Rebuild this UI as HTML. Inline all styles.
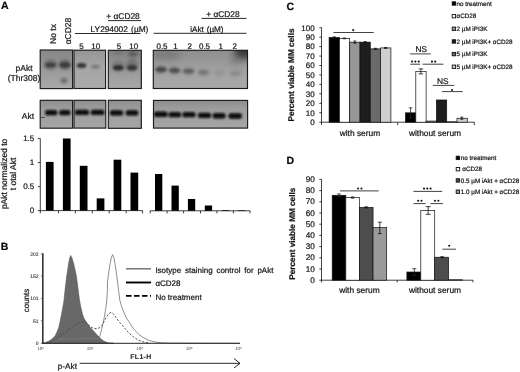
<!DOCTYPE html>
<html><head><meta charset="utf-8"><style>
html,body{margin:0;padding:0;background:#fff;}
svg{display:block;will-change:transform;}
text{font-family:"Liberation Sans",sans-serif;stroke:#222;stroke-width:0.22px;text-rendering:geometricPrecision;}
</style></head><body>
<svg width="520" height="372" viewBox="0 0 520 372" font-family="Liberation Sans, sans-serif">
<rect width="520" height="372" fill="#fff"/>
<text x="1.0" y="9.3" font-size="10.5" text-anchor="start" font-weight="bold" fill="#000" >A</text>
<text transform="translate(56.0,34.0) rotate(-90)" font-size="8.5" text-anchor="middle" fill="#111">No tx</text>
<text transform="translate(70.5,31.0) rotate(-90)" font-size="8.5" text-anchor="middle" fill="#111">&#945;CD28</text>
<text x="106.3" y="19.3" font-size="8.4" text-anchor="start" fill="#111" >+ &#945;CD28</text>
<line x1="108" y1="20.6" x2="141" y2="20.6" stroke="#111" stroke-width="0.9" />
<text x="90.6" y="31.9" font-size="8.3" text-anchor="start" fill="#111" word-spacing="1">LY294002 (&#181;M)</text>
<line x1="75" y1="33.5" x2="140.5" y2="33.5" stroke="#111" stroke-width="0.9" />
<text x="206.2" y="17.1" font-size="8.4" text-anchor="start" fill="#111" >+ &#945;CD28</text>
<line x1="201.5" y1="18.4" x2="246.5" y2="18.4" stroke="#111" stroke-width="0.9" />
<text x="190.2" y="31.8" font-size="8.1" text-anchor="start" fill="#111" word-spacing="0.8">iAkt (&#181;M)</text>
<line x1="153.6" y1="33.3" x2="246.5" y2="33.3" stroke="#111" stroke-width="0.9" />
<text x="81.5" y="48.5" font-size="8" text-anchor="middle" fill="#111" >5</text>
<text x="95.8" y="48.5" font-size="8" text-anchor="middle" fill="#111" >10</text>
<text x="119" y="48.5" font-size="8" text-anchor="middle" fill="#111" >5</text>
<text x="133.8" y="48.5" font-size="8" text-anchor="middle" fill="#111" >10</text>
<text x="162" y="48.5" font-size="8" text-anchor="middle" fill="#111" >0.5</text>
<text x="175.5" y="48.5" font-size="8" text-anchor="middle" fill="#111" >1</text>
<text x="189.7" y="48.5" font-size="8" text-anchor="middle" fill="#111" >2</text>
<text x="204.5" y="48.5" font-size="8" text-anchor="middle" fill="#111" >0.5</text>
<text x="220.8" y="48.5" font-size="8" text-anchor="middle" fill="#111" >1</text>
<text x="234.8" y="48.5" font-size="8" text-anchor="middle" fill="#111" >2</text>
<text x="24" y="71" font-size="8.5" text-anchor="middle" fill="#111" >pAkt</text>
<text x="24" y="81.2" font-size="8.5" text-anchor="middle" fill="#111" >(Thr308)</text>
<text x="28" y="118.5" font-size="8.5" text-anchor="middle" fill="#111" >Akt</text>
<defs>
<filter id="b1" x="-50%" y="-80%" width="200%" height="260%"><feGaussianBlur stdDeviation="1.0"/></filter>
<filter id="b2" x="-50%" y="-80%" width="200%" height="260%"><feGaussianBlur stdDeviation="1.8"/></filter>
<filter id="b3" x="-50%" y="-80%" width="200%" height="260%"><feGaussianBlur stdDeviation="3"/></filter>
<filter id="bt" x="-20%" y="-50%" width="140%" height="200%"><feGaussianBlur stdDeviation="0.8"/></filter>
<linearGradient id="gp1" x1="0" y1="0" x2="0" y2="1">
 <stop offset="0" stop-color="#878787"/><stop offset="0.5" stop-color="#999"/><stop offset="1" stop-color="#a9a9a9"/>
</linearGradient>
<linearGradient id="gp2" x1="0" y1="0" x2="0" y2="1">
 <stop offset="0" stop-color="#959595"/><stop offset="0.4" stop-color="#a5a5a5"/><stop offset="1" stop-color="#ababab"/>
</linearGradient>
<linearGradient id="gp3" x1="0" y1="0" x2="0" y2="1">
 <stop offset="0" stop-color="#838383"/><stop offset="0.55" stop-color="#9a9a9a"/><stop offset="1" stop-color="#a9a9a9"/>
</linearGradient>
<linearGradient id="gp4" x1="0" y1="0" x2="0" y2="1">
 <stop offset="0" stop-color="#8e8e8e"/><stop offset="0.5" stop-color="#a0a0a0"/><stop offset="1" stop-color="#a9a9a9"/>
</linearGradient>
<linearGradient id="ga" x1="0" y1="0" x2="0" y2="1">
 <stop offset="0" stop-color="#8d8d8d"/><stop offset="0.3" stop-color="#9d9d9d"/><stop offset="1" stop-color="#a5a5a5"/>
</linearGradient>
<clipPath id="c1"><rect x="40.2" y="50" width="32.4" height="38.6"/></clipPath>
<clipPath id="c2"><rect x="74.0" y="50.2" width="31.6" height="38.3"/></clipPath>
<clipPath id="c3"><rect x="108.3" y="50.3" width="33" height="38"/></clipPath>
<clipPath id="c4"><rect x="153.3" y="50.3" width="94.2" height="38"/></clipPath>
</defs>
<rect x="40.20" y="50.00" width="32.40" height="38.60" fill="url(#gp1)" stroke="none" stroke-width="0" />
<rect x="74.00" y="50.20" width="31.60" height="38.30" fill="url(#gp2)" stroke="none" stroke-width="0" />
<rect x="108.30" y="50.30" width="33.00" height="38.20" fill="url(#gp3)" stroke="none" stroke-width="0" />
<rect x="153.30" y="50.30" width="94.20" height="38.20" fill="url(#gp4)" stroke="none" stroke-width="0" />
<ellipse cx="50.5" cy="64.5" rx="7.0" ry="5.5" fill="#4a4a4a" opacity="0.35" filter="url(#b2)" clip-path="url(#c1)"/>
<ellipse cx="64.8" cy="64.5" rx="6.5" ry="5.5" fill="#404040" opacity="0.4" filter="url(#b2)" clip-path="url(#c1)"/>
<ellipse cx="50.5" cy="65" rx="5.5" ry="2.75" fill="#383838" opacity="0.85" filter="url(#b1)" clip-path="url(#c1)"/>
<ellipse cx="64.8" cy="65" rx="5.25" ry="2.75" fill="#303030" opacity="0.9" filter="url(#b1)" clip-path="url(#c1)"/>
<ellipse cx="64" cy="80.5" rx="3.25" ry="2.5" fill="#505050" opacity="0.75" filter="url(#b2)" clip-path="url(#c1)"/>
<ellipse cx="81.5" cy="65.5" rx="4.75" ry="2.5" fill="#282828" opacity="0.9" filter="url(#b1)" clip-path="url(#c2)"/>
<ellipse cx="95.5" cy="66.8" rx="4.5" ry="2.25" fill="#686868" opacity="0.65" filter="url(#b1)" clip-path="url(#c2)"/>
<ellipse cx="118.3" cy="66" rx="6.5" ry="5.5" fill="#4a4a4a" opacity="0.3" filter="url(#b2)" clip-path="url(#c3)"/>
<ellipse cx="132" cy="65" rx="6.0" ry="6.5" fill="#404040" opacity="0.35" filter="url(#b2)" clip-path="url(#c3)"/>
<ellipse cx="118.3" cy="67.8" rx="5.5" ry="2.75" fill="#282828" opacity="0.9" filter="url(#b1)" clip-path="url(#c3)"/>
<ellipse cx="132" cy="67.8" rx="5.25" ry="2.75" fill="#2a2a2a" opacity="0.85" filter="url(#b1)" clip-path="url(#c3)"/>
<ellipse cx="133" cy="54" rx="5.5" ry="3.0" fill="#404040" opacity="0.55" filter="url(#b2)" clip-path="url(#c3)"/>
<ellipse cx="118" cy="53" rx="6.0" ry="2.5" fill="#606060" opacity="0.35" filter="url(#b2)" clip-path="url(#c3)"/>
<ellipse cx="161" cy="69.5" rx="6.0" ry="4.5" fill="#555" opacity="0.3375" filter="url(#b2)" clip-path="url(#c4)"/>
<ellipse cx="161" cy="69.5" rx="5.5" ry="2.5" fill="#303030" opacity="0.75" filter="url(#b1)" clip-path="url(#c4)"/>
<ellipse cx="174.5" cy="70.5" rx="6.0" ry="4.5" fill="#555" opacity="0.29250000000000004" filter="url(#b2)" clip-path="url(#c4)"/>
<ellipse cx="174.5" cy="70.5" rx="5.5" ry="2.5" fill="#303030" opacity="0.65" filter="url(#b1)" clip-path="url(#c4)"/>
<ellipse cx="188.5" cy="71.2" rx="6.0" ry="4.5" fill="#555" opacity="0.225" filter="url(#b2)" clip-path="url(#c4)"/>
<ellipse cx="188.5" cy="71.2" rx="5.5" ry="2.5" fill="#303030" opacity="0.5" filter="url(#b1)" clip-path="url(#c4)"/>
<ellipse cx="203.5" cy="72.5" rx="6.0" ry="4.5" fill="#555" opacity="0.135" filter="url(#b2)" clip-path="url(#c4)"/>
<ellipse cx="203.5" cy="72.5" rx="5.5" ry="2.5" fill="#303030" opacity="0.3" filter="url(#b1)" clip-path="url(#c4)"/>
<ellipse cx="219" cy="73" rx="6.0" ry="4.5" fill="#555" opacity="0.036000000000000004" filter="url(#b2)" clip-path="url(#c4)"/>
<ellipse cx="219" cy="73" rx="5.5" ry="2.5" fill="#303030" opacity="0.08" filter="url(#b1)" clip-path="url(#c4)"/>
<ellipse cx="235.5" cy="73.5" rx="6.0" ry="4.5" fill="#555" opacity="0.0675" filter="url(#b2)" clip-path="url(#c4)"/>
<ellipse cx="235.5" cy="73.5" rx="5.5" ry="2.5" fill="#303030" opacity="0.15" filter="url(#b1)" clip-path="url(#c4)"/>
<ellipse cx="244" cy="51" rx="10.0" ry="8.0" fill="#252525" opacity="0.8" filter="url(#b3)" clip-path="url(#c4)"/>
<ellipse cx="236" cy="60" rx="7.0" ry="5.0" fill="#555" opacity="0.3" filter="url(#b3)" clip-path="url(#c4)"/>
<ellipse cx="166" cy="55" rx="15.0" ry="5.0" fill="#505050" opacity="0.35" filter="url(#b3)" clip-path="url(#c4)"/>
<rect x="40.20" y="50.00" width="32.40" height="38.60" fill="none" stroke="#1a1a1a" stroke-width="1.15" />
<rect x="74.00" y="50.20" width="31.60" height="38.30" fill="none" stroke="#1a1a1a" stroke-width="1.15" />
<rect x="108.30" y="50.30" width="33.00" height="38.20" fill="none" stroke="#1a1a1a" stroke-width="1.15" />
<rect x="153.30" y="50.30" width="94.20" height="38.20" fill="none" stroke="#1a1a1a" stroke-width="1.15" />
<rect x="40.20" y="100.30" width="32.40" height="27.90" fill="url(#ga)" stroke="none" stroke-width="0" />
<rect x="74.00" y="100.30" width="31.80" height="27.80" fill="url(#ga)" stroke="none" stroke-width="0" />
<rect x="108.30" y="100.30" width="33.00" height="28.00" fill="url(#ga)" stroke="none" stroke-width="0" />
<rect x="153.50" y="100.40" width="94.10" height="27.70" fill="url(#ga)" stroke="none" stroke-width="0" />
<rect x="45.05" y="109.90" width="12.30" height="5.4" rx="2.6" fill="#080808" filter="url(#bt)"/>
<rect x="59.15" y="109.90" width="11.30" height="5.4" rx="2.6" fill="#080808" filter="url(#bt)"/>
<rect x="74.85" y="109.70" width="14.30" height="5.4" rx="2.6" fill="#080808" filter="url(#bt)"/>
<rect x="90.70" y="109.70" width="13.80" height="5.4" rx="2.6" fill="#080808" filter="url(#bt)"/>
<rect x="109.85" y="110.20" width="13.30" height="5.4" rx="2.6" fill="#080808" filter="url(#bt)"/>
<rect x="125.60" y="110.20" width="12.80" height="5.4" rx="2.6" fill="#080808" filter="url(#bt)"/>
<rect x="153.90" y="111.60" width="13.80" height="5.4" rx="2.6" fill="#080808" filter="url(#bt)"/>
<rect x="168.40" y="111.90" width="12.80" height="5.4" rx="2.6" fill="#080808" filter="url(#bt)"/>
<rect x="182.35" y="111.90" width="13.30" height="5.4" rx="2.6" fill="#080808" filter="url(#bt)"/>
<rect x="197.85" y="112.70" width="13.30" height="5.4" rx="2.6" fill="#080808" filter="url(#bt)"/>
<rect x="212.60" y="113.10" width="13.00" height="5.4" rx="2.6" fill="#080808" filter="url(#bt)"/>
<rect x="228.35" y="113.30" width="13.70" height="5.4" rx="2.6" fill="#080808" filter="url(#bt)"/>
<line x1="41.3" y1="117.5" x2="44.4" y2="117.5" stroke="#333" stroke-width="0.9" />
<rect x="40.20" y="100.30" width="32.40" height="27.90" fill="none" stroke="#1a1a1a" stroke-width="1.15" />
<rect x="74.00" y="100.30" width="31.80" height="27.80" fill="none" stroke="#1a1a1a" stroke-width="1.15" />
<rect x="108.30" y="100.30" width="33.00" height="28.00" fill="none" stroke="#1a1a1a" stroke-width="1.15" />
<rect x="153.50" y="100.40" width="94.10" height="27.70" fill="none" stroke="#1a1a1a" stroke-width="1.15" />
<line x1="40.3" y1="138.5" x2="40.3" y2="210.8" stroke="#111" stroke-width="0.8" />
<line x1="37.8" y1="210.6" x2="40.3" y2="210.6" stroke="#111" stroke-width="0.8" />
<line x1="37.8" y1="186.6" x2="40.3" y2="186.6" stroke="#111" stroke-width="0.8" />
<line x1="37.8" y1="162.6" x2="40.3" y2="162.6" stroke="#111" stroke-width="0.8" />
<line x1="37.8" y1="138.6" x2="40.3" y2="138.6" stroke="#111" stroke-width="0.8" />
<text x="34.3" y="213.4" font-size="8" text-anchor="end" fill="#111" >0</text>
<text x="34.3" y="189.4" font-size="8" text-anchor="end" fill="#111" >0.5</text>
<text x="34.3" y="165.4" font-size="8" text-anchor="end" fill="#111" >1</text>
<text x="34.3" y="141.4" font-size="8" text-anchor="end" fill="#111" >1.5</text>
<line x1="40.3" y1="210.6" x2="142.7" y2="210.6" stroke="#111" stroke-width="0.8" />
<line x1="40.3" y1="210.6" x2="40.3" y2="213.4" stroke="#111" stroke-width="0.8" />
<line x1="58.5" y1="210.6" x2="58.5" y2="213.4" stroke="#111" stroke-width="0.8" />
<line x1="75.4" y1="210.6" x2="75.4" y2="213.4" stroke="#111" stroke-width="0.8" />
<line x1="92.3" y1="210.6" x2="92.3" y2="213.4" stroke="#111" stroke-width="0.8" />
<line x1="109.2" y1="210.6" x2="109.2" y2="213.4" stroke="#111" stroke-width="0.8" />
<line x1="126.2" y1="210.6" x2="126.2" y2="213.4" stroke="#111" stroke-width="0.8" />
<line x1="142.6" y1="210.6" x2="142.6" y2="213.4" stroke="#111" stroke-width="0.8" />
<line x1="150.2" y1="210.8" x2="250.1" y2="210.8" stroke="#111" stroke-width="0.8" />
<line x1="150.2" y1="210.8" x2="150.2" y2="213.4" stroke="#111" stroke-width="0.8" />
<line x1="167.1" y1="210.8" x2="167.1" y2="213.4" stroke="#111" stroke-width="0.8" />
<line x1="183.6" y1="210.8" x2="183.6" y2="213.4" stroke="#111" stroke-width="0.8" />
<line x1="200.5" y1="210.8" x2="200.5" y2="213.4" stroke="#111" stroke-width="0.8" />
<line x1="216.9" y1="210.8" x2="216.9" y2="213.4" stroke="#111" stroke-width="0.8" />
<line x1="233.4" y1="210.8" x2="233.4" y2="213.4" stroke="#111" stroke-width="0.8" />
<line x1="250.1" y1="210.8" x2="250.1" y2="213.4" stroke="#111" stroke-width="0.8" />
<rect x="45.90" y="161.90" width="7.70" height="48.70" fill="#000" stroke="none" stroke-width="0" />
<rect x="62.90" y="138.50" width="7.70" height="72.10" fill="#000" stroke="none" stroke-width="0" />
<rect x="79.80" y="165.80" width="7.70" height="44.80" fill="#000" stroke="none" stroke-width="0" />
<rect x="96.70" y="198.40" width="7.70" height="12.20" fill="#000" stroke="none" stroke-width="0" />
<rect x="113.60" y="159.70" width="7.70" height="50.90" fill="#000" stroke="none" stroke-width="0" />
<rect x="130.50" y="172.60" width="7.70" height="38.00" fill="#000" stroke="none" stroke-width="0" />
<rect x="155.00" y="174.00" width="7.30" height="36.80" fill="#000" stroke="none" stroke-width="0" />
<rect x="171.50" y="185.60" width="7.30" height="25.20" fill="#000" stroke="none" stroke-width="0" />
<rect x="187.90" y="199.00" width="7.30" height="11.80" fill="#000" stroke="none" stroke-width="0" />
<rect x="204.80" y="205.50" width="7.30" height="5.30" fill="#000" stroke="none" stroke-width="0" />
<rect x="221.80" y="210.10" width="7.30" height="0.70" fill="#000" stroke="none" stroke-width="0" />
<rect x="238.20" y="210.20" width="7.30" height="0.60" fill="#000" stroke="none" stroke-width="0" />
<text transform="translate(7.3,173.9) rotate(-90)" font-size="8.5" text-anchor="middle" fill="#111">pAkt normalized to</text>
<text transform="translate(16.3,173.9) rotate(-90)" font-size="8.5" text-anchor="middle" fill="#111">t otal Akt</text>
<text x="0.8" y="250.4" font-size="10.5" text-anchor="start" font-weight="bold" fill="#000" >B</text>
<text transform="translate(28.8,300.5) rotate(-90)" font-size="8" text-anchor="middle" fill="#111">counts</text>
<text x="38.6" y="255.71500000000003" font-size="5.0" text-anchor="end" fill="#333" style="stroke-width:0.1px">202</text>
<line x1="40.8" y1="253.91500000000002" x2="42.8" y2="253.91500000000002" stroke="#333" stroke-width="0.6" />
<text x="38.6" y="277.84000000000003" font-size="5.0" text-anchor="end" fill="#333" style="stroke-width:0.1px">152</text>
<line x1="40.8" y1="276.04" x2="42.8" y2="276.04" stroke="#333" stroke-width="0.6" />
<text x="38.6" y="300.4075" font-size="5.0" text-anchor="end" fill="#333" style="stroke-width:0.1px">101</text>
<line x1="40.8" y1="298.6075" x2="42.8" y2="298.6075" stroke="#333" stroke-width="0.6" />
<text x="38.6" y="322.5325" font-size="5.0" text-anchor="end" fill="#333" style="stroke-width:0.1px">51</text>
<line x1="40.8" y1="320.7325" x2="42.8" y2="320.7325" stroke="#333" stroke-width="0.6" />
<text x="38.6" y="345.1" font-size="5.0" text-anchor="end" fill="#333" style="stroke-width:0.1px">0</text>
<line x1="40.8" y1="343.3" x2="42.8" y2="343.3" stroke="#333" stroke-width="0.6" />
<polygon points="43,343.3 46.2,342.3 48.5,341.4 50.8,340 53.3,337.8 55.4,335.4 57.2,331.5 58.8,327.3 59.8,323 60.6,318.7 61.5,314.3 62.3,310 63.8,302 64.5,295 65.5,286 66.6,277 67.6,270.2 68.6,263.4 69.6,258.5 70.6,255.4 71.8,257.5 73.6,263.4 75.2,270.2 76.5,277 77.6,285 78.7,294 79.5,300 80.6,306 81.5,310 82.6,314.5 84,318.3 85.6,321 87.4,323.6 90,327.2 93.4,330.8 96.5,334.3 99.2,337.1 101.5,339.3 103.8,341.1 108,342.8 114,343.3" fill="#686868" stroke="#5a5a5a"  stroke-width="0.6"/>
<polyline points="43,343.1 48,341.8 52,339.3 56,338.8 60,338.8 80,338.7 92,338.6 96,338.4 98.8,337.6 100.1,335.3 101.8,328.6 103.4,321.9 104.7,315 105.8,308.4 106.8,300 107.4,290.3 107.4,283 108.1,276.9 109.1,270 110.2,263.4 111.2,258 112.6,254.7 113.8,257.5 114.9,263.4 116,270 116.9,276.9 117.8,284 118.5,290.3 119.8,300 121,304.5 122.3,308.4 125,315 127,319 129,321.9 131,325 133,328 136,331.5 139,334.5 143,337.5 148,340 154,341.8 160,342.7 170,343.1 240,343.3" fill="none" stroke="#7a7a7a" stroke-width="0.85"/>
<polyline points="46,343 49,342 52,340.6 56.5,338.6 62.3,334.6 68.1,330.1 73.8,325.6 76.8,323.8 79.6,322.6 82.5,321.8 84.8,321.6 86.5,322.6 88.8,325 91,327 93.4,328.4 96,328.7 98,328.5 100.2,327.3 102,325.5 103.8,322 105.5,319 106.9,316.5 108.5,314 110,312.8 111.6,312.5 113.5,314 115,316 116.3,317.8 119,321.5 121.7,324.6 125,328.5 128.4,332.6 132,335.8 135,338 138,340 142,341.5 146,342.4 150,343" fill="none" stroke="#4a4a4a" stroke-width="0.95" stroke-dasharray="2.2,1.6"/>
<line x1="42.8" y1="253.3" x2="42.8" y2="343.8" stroke="#333" stroke-width="1.6" />
<line x1="42.3" y1="343.3" x2="240" y2="343.3" stroke="#222" stroke-width="1.0" />
<text x="40.6" y="350" font-size="4.5" text-anchor="middle" fill="#444" style="stroke:none">10<tspan font-size="3" dy="-1.5">0</tspan></text>
<text x="90.2" y="350" font-size="4.5" text-anchor="middle" fill="#444" style="stroke:none">10<tspan font-size="3" dy="-1.5">1</tspan></text>
<text x="139.6" y="350" font-size="4.5" text-anchor="middle" fill="#444" style="stroke:none">10<tspan font-size="3" dy="-1.5">2</tspan></text>
<text x="189.1" y="350" font-size="4.5" text-anchor="middle" fill="#444" style="stroke:none">10<tspan font-size="3" dy="-1.5">3</tspan></text>
<text x="238.3" y="350" font-size="4.5" text-anchor="middle" fill="#444" style="stroke:none">10<tspan font-size="3" dy="-1.5">4</tspan></text>
<text x="130.3" y="358.9" font-size="6.9" text-anchor="start" font-weight="bold" fill="#222" letter-spacing="0.35" style="stroke-width:0.1px">FL1-H</text>
<text x="57.8" y="369.3" font-size="8.2" text-anchor="start" fill="#111" >p-Akt</text>
<line x1="79.6" y1="363.3" x2="240" y2="363.3" stroke="#111" stroke-width="0.9" />
<polyline points="234,358.6 240,363.3 234,368" fill="none" stroke="#111" stroke-width="0.9"/>
<line x1="126" y1="268.8" x2="151" y2="268.8" stroke="#777" stroke-width="1.5" />
<line x1="126" y1="282.5" x2="151" y2="282.5" stroke="#000" stroke-width="1.9" />
<line x1="126" y1="295.9" x2="151" y2="295.9" stroke="#000" stroke-width="1.9" stroke-dasharray="5.5,2.5"/>
<text x="155.4" y="272.9" font-size="8" text-anchor="start" fill="#111" word-spacing="1.6">Isotype staining control for pAkt</text>
<text x="155.4" y="286.3" font-size="8" text-anchor="start" fill="#111" >&#945;CD28</text>
<text x="155.4" y="300.0" font-size="8" text-anchor="start" fill="#111" >No treatment</text>
<text x="286.5" y="10.1" font-size="10.5" text-anchor="start" font-weight="bold" fill="#000" >C</text>
<line x1="321.5" y1="27.5" x2="321.5" y2="122.3" stroke="#111" stroke-width="0.8" />
<line x1="319.3" y1="122.2" x2="321.5" y2="122.2" stroke="#111" stroke-width="0.8" />
<text x="314.7" y="125.05" font-size="8" text-anchor="end" fill="#111" >0</text>
<line x1="319.3" y1="112.75" x2="321.5" y2="112.75" stroke="#111" stroke-width="0.8" />
<text x="314.7" y="115.6" font-size="8" text-anchor="end" fill="#111" >10</text>
<line x1="319.3" y1="103.30000000000001" x2="321.5" y2="103.30000000000001" stroke="#111" stroke-width="0.8" />
<text x="314.7" y="106.15" font-size="8" text-anchor="end" fill="#111" >20</text>
<line x1="319.3" y1="93.85000000000001" x2="321.5" y2="93.85000000000001" stroke="#111" stroke-width="0.8" />
<text x="314.7" y="96.7" font-size="8" text-anchor="end" fill="#111" >30</text>
<line x1="319.3" y1="84.4" x2="321.5" y2="84.4" stroke="#111" stroke-width="0.8" />
<text x="314.7" y="87.25" font-size="8" text-anchor="end" fill="#111" >40</text>
<line x1="319.3" y1="74.95" x2="321.5" y2="74.95" stroke="#111" stroke-width="0.8" />
<text x="314.7" y="77.8" font-size="8" text-anchor="end" fill="#111" >50</text>
<line x1="319.3" y1="65.5" x2="321.5" y2="65.5" stroke="#111" stroke-width="0.8" />
<text x="314.7" y="68.35" font-size="8" text-anchor="end" fill="#111" >60</text>
<line x1="319.3" y1="56.05000000000001" x2="321.5" y2="56.05000000000001" stroke="#111" stroke-width="0.8" />
<text x="314.7" y="58.90000000000001" font-size="8" text-anchor="end" fill="#111" >70</text>
<line x1="319.3" y1="46.60000000000001" x2="321.5" y2="46.60000000000001" stroke="#111" stroke-width="0.8" />
<text x="314.7" y="49.45000000000001" font-size="8" text-anchor="end" fill="#111" >80</text>
<line x1="319.3" y1="37.150000000000006" x2="321.5" y2="37.150000000000006" stroke="#111" stroke-width="0.8" />
<text x="314.7" y="40.00000000000001" font-size="8" text-anchor="end" fill="#111" >90</text>
<line x1="319.3" y1="27.700000000000003" x2="321.5" y2="27.700000000000003" stroke="#111" stroke-width="0.8" />
<text x="314.7" y="30.550000000000004" font-size="8" text-anchor="end" fill="#111" >100</text>
<line x1="321.5" y1="122.2" x2="474.5" y2="122.2" stroke="#111" stroke-width="0.8" />
<line x1="321.5" y1="122.2" x2="321.5" y2="125.2" stroke="#111" stroke-width="0.8" />
<line x1="397.7" y1="122.2" x2="397.7" y2="125.2" stroke="#111" stroke-width="0.8" />
<line x1="474.3" y1="122.2" x2="474.3" y2="125.2" stroke="#111" stroke-width="0.8" />
<text transform="translate(294.0,75.0) rotate(-90)" font-size="8.3" text-anchor="middle" font-weight="bold" fill="#111">Percent viable MM cells</text>
<rect x="329.10" y="37.53" width="10.30" height="84.67" fill="#000" stroke="#111" stroke-width="0.7" />
<rect x="339.40" y="38.38" width="10.30" height="83.82" fill="#fff" stroke="#111" stroke-width="0.7" />
<rect x="349.70" y="42.16" width="10.30" height="80.04" fill="#969696" stroke="#111" stroke-width="0.7" />
<rect x="360.00" y="42.16" width="10.30" height="80.04" fill="#1e1e1e" stroke="#111" stroke-width="0.7" />
<rect x="370.30" y="48.87" width="10.30" height="73.33" fill="#6a6a6a" stroke="#111" stroke-width="0.7" />
<rect x="380.60" y="47.92" width="10.30" height="74.28" fill="#cfcfcf" stroke="#111" stroke-width="0.7" />
<rect x="405.50" y="112.84" width="10.30" height="9.36" fill="#000" stroke="#111" stroke-width="0.7" />
<rect x="415.80" y="71.64" width="10.30" height="50.56" fill="#fff" stroke="#111" stroke-width="0.7" />
<rect x="426.10" y="121.07" width="10.30" height="1.13" fill="#969696" stroke="#111" stroke-width="0.7" />
<rect x="436.40" y="99.99" width="10.30" height="22.21" fill="#1e1e1e" stroke="#111" stroke-width="0.7" />
<rect x="446.70" y="121.82" width="10.30" height="0.38" fill="#6a6a6a" stroke="#111" stroke-width="0.7" />
<rect x="457.00" y="118.23" width="10.30" height="3.97" fill="#cfcfcf" stroke="#111" stroke-width="0.7" />
<line x1="334.3" y1="36.866500000000016" x2="334.3" y2="38.189499999999995" stroke="#111" stroke-width="0.8" />
<line x1="332.8" y1="36.866500000000016" x2="335.8" y2="36.866500000000016" stroke="#111" stroke-width="0.8" />
<line x1="332.8" y1="38.189499999999995" x2="335.8" y2="38.189499999999995" stroke="#111" stroke-width="0.8" />
<line x1="344.4" y1="38.00050000000002" x2="344.4" y2="38.75650000000002" stroke="#111" stroke-width="0.8" />
<line x1="342.9" y1="38.00050000000002" x2="345.9" y2="38.00050000000002" stroke="#111" stroke-width="0.8" />
<line x1="342.9" y1="38.75650000000002" x2="345.9" y2="38.75650000000002" stroke="#111" stroke-width="0.8" />
<line x1="354.8" y1="41.0245" x2="354.8" y2="43.292500000000004" stroke="#111" stroke-width="0.8" />
<line x1="353.3" y1="41.0245" x2="356.3" y2="41.0245" stroke="#111" stroke-width="0.8" />
<line x1="353.3" y1="43.292500000000004" x2="356.3" y2="43.292500000000004" stroke="#111" stroke-width="0.8" />
<line x1="410.6" y1="107.836" x2="410.6" y2="117.85300000000001" stroke="#222" stroke-width="0.8" />
<line x1="408.85" y1="107.836" x2="412.35" y2="107.836" stroke="#222" stroke-width="0.8" />
<line x1="408.85" y1="117.85300000000001" x2="412.35" y2="117.85300000000001" stroke="#222" stroke-width="0.8" />
<line x1="420.9" y1="68.90200000000002" x2="420.9" y2="73.816" stroke="#111" stroke-width="0.8" />
<line x1="418.65" y1="68.90200000000002" x2="423.15" y2="68.90200000000002" stroke="#111" stroke-width="0.8" />
<line x1="418.65" y1="73.816" x2="423.15" y2="73.816" stroke="#111" stroke-width="0.8" />
<line x1="461.8" y1="117.1915" x2="461.8" y2="119.2705" stroke="#111" stroke-width="0.8" />
<line x1="460.3" y1="117.1915" x2="463.3" y2="117.1915" stroke="#111" stroke-width="0.8" />
<line x1="460.3" y1="119.2705" x2="463.3" y2="119.2705" stroke="#111" stroke-width="0.8" />
<line x1="365.1" y1="41.68600000000001" x2="365.1" y2="42.631" stroke="#111" stroke-width="0.8" />
<line x1="363.35" y1="41.68600000000001" x2="366.85" y2="41.68600000000001" stroke="#111" stroke-width="0.8" />
<line x1="363.35" y1="42.631" x2="366.85" y2="42.631" stroke="#111" stroke-width="0.8" />
<line x1="375.4" y1="48.301" x2="375.4" y2="49.435" stroke="#111" stroke-width="0.8" />
<line x1="373.65" y1="48.301" x2="377.15" y2="48.301" stroke="#111" stroke-width="0.8" />
<line x1="373.65" y1="49.435" x2="377.15" y2="49.435" stroke="#111" stroke-width="0.8" />
<line x1="385.7" y1="47.450500000000005" x2="385.7" y2="48.39550000000001" stroke="#111" stroke-width="0.8" />
<line x1="383.95" y1="47.450500000000005" x2="387.45" y2="47.450500000000005" stroke="#111" stroke-width="0.8" />
<line x1="383.95" y1="48.39550000000001" x2="387.45" y2="48.39550000000001" stroke="#111" stroke-width="0.8" />
<line x1="333.5" y1="32.5" x2="373.7" y2="32.5" stroke="#111" stroke-width="0.8" />
<circle cx="353.20" cy="30.10" r="1.05" fill="#151515"/>
<text x="421.3" y="52.1" font-size="8.3" text-anchor="middle" fill="#111" >NS</text>
<line x1="410.1" y1="53.9" x2="430.8" y2="53.9" stroke="#111" stroke-width="0.8" />
<line x1="410.1" y1="64.2" x2="420.1" y2="64.2" stroke="#111" stroke-width="0.8" />
<circle cx="412.10" cy="61.60" r="1.05" fill="#151515"/>
<circle cx="415.40" cy="61.60" r="1.05" fill="#151515"/>
<circle cx="418.70" cy="61.60" r="1.05" fill="#151515"/>
<line x1="422.5" y1="64.2" x2="443.4" y2="64.2" stroke="#111" stroke-width="0.8" />
<circle cx="431.95" cy="61.60" r="1.05" fill="#151515"/>
<circle cx="435.25" cy="61.60" r="1.05" fill="#151515"/>
<text x="442.8" y="83.7" font-size="8.3" text-anchor="middle" fill="#111" >NS</text>
<line x1="432.8" y1="85.4" x2="454.2" y2="85.4" stroke="#111" stroke-width="0.8" />
<line x1="441.9" y1="91.6" x2="462.7" y2="91.6" stroke="#111" stroke-width="0.8" />
<circle cx="452.10" cy="90.00" r="1.05" fill="#151515"/>
<text x="339.7" y="135.9" font-size="8.4" text-anchor="start" fill="#111" >with serum</text>
<text x="408.9" y="136.0" font-size="8.4" text-anchor="start" fill="#111" >without serum</text>
<rect x="452.20" y="1.80" width="3.40" height="3.40" fill="#000" stroke="#111" stroke-width="0.9" />
<text x="456.5" y="5.7" font-size="6.3" text-anchor="start" fill="#111" >no treatment</text>
<rect x="452.20" y="14.45" width="3.40" height="3.40" fill="#fff" stroke="#111" stroke-width="0.9" />
<text x="456.5" y="18.349999999999998" font-size="6.3" text-anchor="start" fill="#111" >&#945;CD28</text>
<rect x="452.20" y="27.10" width="3.40" height="3.40" fill="#969696" stroke="#111" stroke-width="0.9" />
<text x="456.5" y="31.0" font-size="6.3" text-anchor="start" fill="#111" >2 &#181;M iPI3K</text>
<rect x="452.20" y="39.75" width="3.40" height="3.40" fill="#1e1e1e" stroke="#111" stroke-width="0.9" />
<text x="456.5" y="43.650000000000006" font-size="6.3" text-anchor="start" fill="#111" >2 &#181;M iPI3K+ &#945;CD28</text>
<rect x="452.20" y="52.40" width="3.40" height="3.40" fill="#6a6a6a" stroke="#111" stroke-width="0.9" />
<text x="456.5" y="56.300000000000004" font-size="6.3" text-anchor="start" fill="#111" >5 &#181;M iPI3K</text>
<rect x="452.20" y="65.05" width="3.40" height="3.40" fill="#cfcfcf" stroke="#111" stroke-width="0.9" />
<text x="456.5" y="68.95" font-size="6.3" text-anchor="start" fill="#111" >5 &#181;M iPI3K+ &#945;CD28</text>
<text x="286.5" y="163.9" font-size="10.5" text-anchor="start" font-weight="bold" fill="#000" >D</text>
<line x1="321.5" y1="179.4" x2="321.5" y2="280.3" stroke="#111" stroke-width="0.8" />
<line x1="319.3" y1="280.2" x2="321.5" y2="280.2" stroke="#111" stroke-width="0.8" />
<text x="314.9" y="282.8" font-size="8.2" text-anchor="end" fill="#111" >0</text>
<line x1="319.3" y1="269.0" x2="321.5" y2="269.0" stroke="#111" stroke-width="0.8" />
<text x="314.9" y="271.6" font-size="8.2" text-anchor="end" fill="#111" >10</text>
<line x1="319.3" y1="257.8" x2="321.5" y2="257.8" stroke="#111" stroke-width="0.8" />
<text x="314.9" y="260.40000000000003" font-size="8.2" text-anchor="end" fill="#111" >20</text>
<line x1="319.3" y1="246.6" x2="321.5" y2="246.6" stroke="#111" stroke-width="0.8" />
<text x="314.9" y="249.2" font-size="8.2" text-anchor="end" fill="#111" >30</text>
<line x1="319.3" y1="235.39999999999998" x2="321.5" y2="235.39999999999998" stroke="#111" stroke-width="0.8" />
<text x="314.9" y="237.99999999999997" font-size="8.2" text-anchor="end" fill="#111" >40</text>
<line x1="319.3" y1="224.2" x2="321.5" y2="224.2" stroke="#111" stroke-width="0.8" />
<text x="314.9" y="226.79999999999998" font-size="8.2" text-anchor="end" fill="#111" >50</text>
<line x1="319.3" y1="213.0" x2="321.5" y2="213.0" stroke="#111" stroke-width="0.8" />
<text x="314.9" y="215.6" font-size="8.2" text-anchor="end" fill="#111" >60</text>
<line x1="319.3" y1="201.79999999999998" x2="321.5" y2="201.79999999999998" stroke="#111" stroke-width="0.8" />
<text x="314.9" y="204.39999999999998" font-size="8.2" text-anchor="end" fill="#111" >70</text>
<line x1="319.3" y1="190.59999999999997" x2="321.5" y2="190.59999999999997" stroke="#111" stroke-width="0.8" />
<text x="314.9" y="193.19999999999996" font-size="8.2" text-anchor="end" fill="#111" >80</text>
<line x1="319.3" y1="179.39999999999998" x2="321.5" y2="179.39999999999998" stroke="#111" stroke-width="0.8" />
<text x="314.9" y="181.99999999999997" font-size="8.2" text-anchor="end" fill="#111" >90</text>
<line x1="321.5" y1="280.2" x2="473" y2="280.2" stroke="#111" stroke-width="0.8" />
<line x1="321.5" y1="280.2" x2="321.5" y2="282.4" stroke="#111" stroke-width="0.8" />
<line x1="397.2" y1="280.2" x2="397.2" y2="282.4" stroke="#111" stroke-width="0.8" />
<line x1="473" y1="280.2" x2="473" y2="282.4" stroke="#111" stroke-width="0.8" />
<text transform="translate(295.3,233.7) rotate(-90)" font-size="8.2" text-anchor="middle" font-weight="bold" fill="#111">Percent viable MM cells</text>
<rect x="332.20" y="195.30" width="13.62" height="84.90" fill="#000" stroke="#111" stroke-width="0.7" />
<rect x="345.82" y="197.54" width="13.62" height="82.66" fill="#fff" stroke="#111" stroke-width="0.7" />
<rect x="359.44" y="207.40" width="13.62" height="72.80" fill="#4d4d4d" stroke="#111" stroke-width="0.7" />
<rect x="373.06" y="227.56" width="13.62" height="52.64" fill="#9a9a9a" stroke="#111" stroke-width="0.7" />
<rect x="406.90" y="272.02" width="13.90" height="8.18" fill="#000" stroke="#111" stroke-width="0.7" />
<rect x="420.80" y="210.42" width="13.90" height="69.78" fill="#fff" stroke="#111" stroke-width="0.7" />
<rect x="434.70" y="257.24" width="13.90" height="22.96" fill="#4d4d4d" stroke="#111" stroke-width="0.7" />
<rect x="448.60" y="279.75" width="13.90" height="0.45" fill="#9a9a9a" stroke="#111" stroke-width="0.7" />
<line x1="339.0" y1="193.95999999999998" x2="339.0" y2="196.64799999999997" stroke="#222" stroke-width="0.8" />
<line x1="337.25" y1="193.95999999999998" x2="340.75" y2="193.95999999999998" stroke="#222" stroke-width="0.8" />
<line x1="337.25" y1="196.64799999999997" x2="340.75" y2="196.64799999999997" stroke="#222" stroke-width="0.8" />
<line x1="352.6" y1="196.98399999999998" x2="352.6" y2="198.10399999999998" stroke="#111" stroke-width="0.8" />
<line x1="350.85" y1="196.98399999999998" x2="354.35" y2="196.98399999999998" stroke="#111" stroke-width="0.8" />
<line x1="350.85" y1="198.10399999999998" x2="354.35" y2="198.10399999999998" stroke="#111" stroke-width="0.8" />
<line x1="366.2" y1="206.83999999999997" x2="366.2" y2="207.95999999999998" stroke="#111" stroke-width="0.8" />
<line x1="364.45" y1="206.83999999999997" x2="367.95" y2="206.83999999999997" stroke="#111" stroke-width="0.8" />
<line x1="364.45" y1="207.95999999999998" x2="367.95" y2="207.95999999999998" stroke="#111" stroke-width="0.8" />
<line x1="379.8" y1="222.18399999999997" x2="379.8" y2="233.60799999999998" stroke="#111" stroke-width="0.8" />
<line x1="377.8" y1="222.18399999999997" x2="381.8" y2="222.18399999999997" stroke="#111" stroke-width="0.8" />
<line x1="377.8" y1="233.60799999999998" x2="381.8" y2="233.60799999999998" stroke="#111" stroke-width="0.8" />
<line x1="414.3" y1="268.664" x2="414.3" y2="275.384" stroke="#222" stroke-width="0.8" />
<line x1="412.3" y1="268.664" x2="416.3" y2="268.664" stroke="#222" stroke-width="0.8" />
<line x1="412.3" y1="275.384" x2="416.3" y2="275.384" stroke="#222" stroke-width="0.8" />
<line x1="428.2" y1="206.61599999999999" x2="428.2" y2="214.344" stroke="#111" stroke-width="0.8" />
<line x1="425.7" y1="206.61599999999999" x2="430.7" y2="206.61599999999999" stroke="#111" stroke-width="0.8" />
<line x1="425.7" y1="214.344" x2="430.7" y2="214.344" stroke="#111" stroke-width="0.8" />
<line x1="442.1" y1="256.68" x2="442.1" y2="257.8" stroke="#111" stroke-width="0.8" />
<line x1="440.35" y1="256.68" x2="443.85" y2="256.68" stroke="#111" stroke-width="0.8" />
<line x1="440.35" y1="257.8" x2="443.85" y2="257.8" stroke="#111" stroke-width="0.8" />
<line x1="340" y1="190.9" x2="378.6" y2="190.9" stroke="#111" stroke-width="0.8" />
<circle cx="358.15" cy="188.50" r="1.05" fill="#151515"/>
<circle cx="361.45" cy="188.50" r="1.05" fill="#151515"/>
<line x1="413.5" y1="191.4" x2="442.1" y2="191.4" stroke="#111" stroke-width="0.8" />
<circle cx="424.00" cy="188.60" r="1.05" fill="#151515"/>
<circle cx="427.30" cy="188.60" r="1.05" fill="#151515"/>
<circle cx="430.60" cy="188.60" r="1.05" fill="#151515"/>
<line x1="413.5" y1="203.6" x2="425.7" y2="203.6" stroke="#111" stroke-width="0.8" />
<circle cx="418.15" cy="200.80" r="1.05" fill="#151515"/>
<circle cx="421.45" cy="200.80" r="1.05" fill="#151515"/>
<line x1="430.4" y1="203.6" x2="443.0" y2="203.6" stroke="#111" stroke-width="0.8" />
<circle cx="435.05" cy="200.80" r="1.05" fill="#151515"/>
<circle cx="438.35" cy="200.80" r="1.05" fill="#151515"/>
<line x1="442.4" y1="249.2" x2="456" y2="249.2" stroke="#111" stroke-width="0.8" />
<circle cx="449.20" cy="245.70" r="1.05" fill="#151515"/>
<text x="339.2" y="292.8" font-size="8.4" text-anchor="start" fill="#111" >with serum</text>
<text x="408.9" y="293.1" font-size="8.4" text-anchor="start" fill="#111" >without serum</text>
<rect x="456.20" y="156.20" width="3.40" height="3.40" fill="#000" stroke="#111" stroke-width="0.9" />
<text x="460.8" y="160.0" font-size="6.3" text-anchor="start" fill="#111" >no treatment</text>
<rect x="456.20" y="167.47" width="3.40" height="3.40" fill="#fff" stroke="#111" stroke-width="0.9" />
<text x="462.3" y="171.27" font-size="6.3" text-anchor="start" fill="#111" >&#945;CD28</text>
<rect x="456.20" y="178.74" width="3.40" height="3.40" fill="#4d4d4d" stroke="#111" stroke-width="0.9" />
<text x="460.8" y="182.54" font-size="6.3" text-anchor="start" fill="#111" >0.5 &#181;M iAkt + &#945;CD28</text>
<rect x="456.20" y="190.01" width="3.40" height="3.40" fill="#9a9a9a" stroke="#111" stroke-width="0.9" />
<text x="460.8" y="193.81" font-size="6.3" text-anchor="start" fill="#111" >1.0 &#181;M iAkt + &#945;CD28</text>
</svg>
</body></html>
